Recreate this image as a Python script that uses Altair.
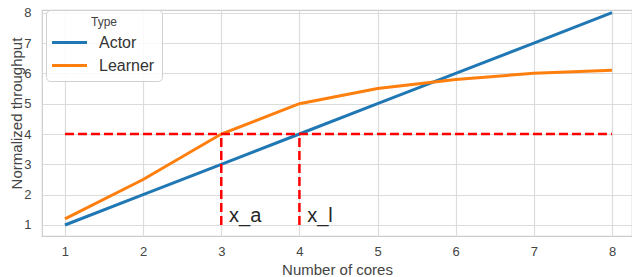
import altair as alt
import pandas as pd

cores = [1, 2, 3, 4, 5, 6, 7, 8]
actor = [1, 2, 3, 4, 5, 6, 7, 8]
learner = [1.2, 2.5, 4.0, 5.0, 5.5, 5.8, 6.0, 6.1]
types = ["Actor", "Learner"]
colors = ["#1f77b4", "#ff7f0e"]
y_ticks = [1, 2, 3, 4, 5, 6, 7, 8]

# dashed guide lines
h_x1 = [1]
h_x2 = [8]
h_y = [4]
v_x = [3, 4]
v_y1 = [1, 1]
v_y2 = [4, 4]
labels = ["x_a", "x_l"]
label_x = [3.1, 4.1]
label_y = [1.1, 1.1]

rows = []
for c, a in zip(cores, actor):
    rows.append({"cores": c, "value": a, "Type": "Actor"})
for c, l in zip(cores, learner):
    rows.append({"cores": c, "value": l, "Type": "Learner"})
df = pd.DataFrame(rows)

xscale = alt.Scale(domain=[0.706, 8.256], nice=False, zero=False)
yscale = alt.Scale(domain=[0.637, 8.089], nice=False, zero=False)

xaxis = alt.Axis(values=cores, title="Number of cores", format="d",
                 titleBaseline="middle", titleY=33, labelOverlap=False)
yaxis = alt.Axis(values=y_ticks, title="Normalized throughput", format="d",
                 titleBaseline="middle", titleX=-26, titleY=103, labelOverlap=False)

lines = alt.Chart(df).mark_line(strokeWidth=3).encode(
    x=alt.X("cores:Q", scale=xscale, axis=xaxis),
    y=alt.Y("value:Q", scale=yscale, axis=yaxis),
    color=alt.Color("Type:N", scale=alt.Scale(domain=types, range=colors),
                    legend=alt.Legend(title="Type")),
)

hdf = pd.DataFrame({"x": h_x1, "x2": h_x2, "y": h_y})
hrule = alt.Chart(hdf).mark_rule(color="#ff0000", strokeWidth=2.5, strokeDash=[9, 4]).encode(
    x=alt.X("x:Q", scale=xscale, axis=xaxis), x2="x2:Q",
    y=alt.Y("y:Q", scale=yscale, axis=yaxis)
)

vdf = pd.DataFrame({"x": v_x, "y": v_y1, "y2": v_y2})
vrule = alt.Chart(vdf).mark_rule(color="#ff0000", strokeWidth=2.5, strokeDash=[9, 4]).encode(
    x=alt.X("x:Q", scale=xscale, axis=xaxis),
    y=alt.Y("y:Q", scale=yscale, axis=yaxis), y2="y2:Q"
)

tdf = pd.DataFrame({"x": label_x, "y": label_y, "t": labels})
text = alt.Chart(tdf).mark_text(align="left", baseline="alphabetic", fontSize=20,
                                font="Liberation Sans", color="#262626").encode(
    x=alt.X("x:Q", scale=xscale, axis=xaxis),
    y=alt.Y("y:Q", scale=yscale, axis=yaxis), text="t:N"
)

chart = alt.layer(lines, hrule, vrule, text).properties(
    width=590, height=226,
    autosize=alt.AutoSizeParams(type="none"),
    padding={"left": 34, "top": 2, "right": 0, "bottom": 41},
).configure_view(
    stroke="#cccccc", strokeWidth=1.2
).configure_axis(
    grid=True, gridColor="#dcdcdc", gridWidth=1.2, domain=False, ticks=False,
    labelOverlap=False,
    labelFont="Liberation Sans", labelFontSize=13, labelColor="#444444",
    titleFont="Liberation Sans", titleFontSize=15, titleColor="#444444",
    titleFontWeight="normal",
).configure_axisX(
    labelPadding=9
).configure_axisY(
    labelPadding=11
).configure_legend(
    orient="none", legendX=4, legendY=0,
    fillColor="rgba(255,255,255,0.85)", strokeColor="#d0d0d0", cornerRadius=4,
    padding=7, titleFont="Liberation Sans", titleFontSize=12, titleFontWeight="normal",
    titleColor="#444444", titleAnchor="middle",
    labelFont="Liberation Sans", labelFontSize=16, labelColor="#333333",
    symbolType="M-1.75,0L1.75,0", symbolSize=400, symbolStrokeWidth=3,
    symbolOffset=5, labelOffset=18,
    rowPadding=3, titlePadding=2,
)

chart.save("out.html", embed_options={"renderer": "svg", "actions": False})
